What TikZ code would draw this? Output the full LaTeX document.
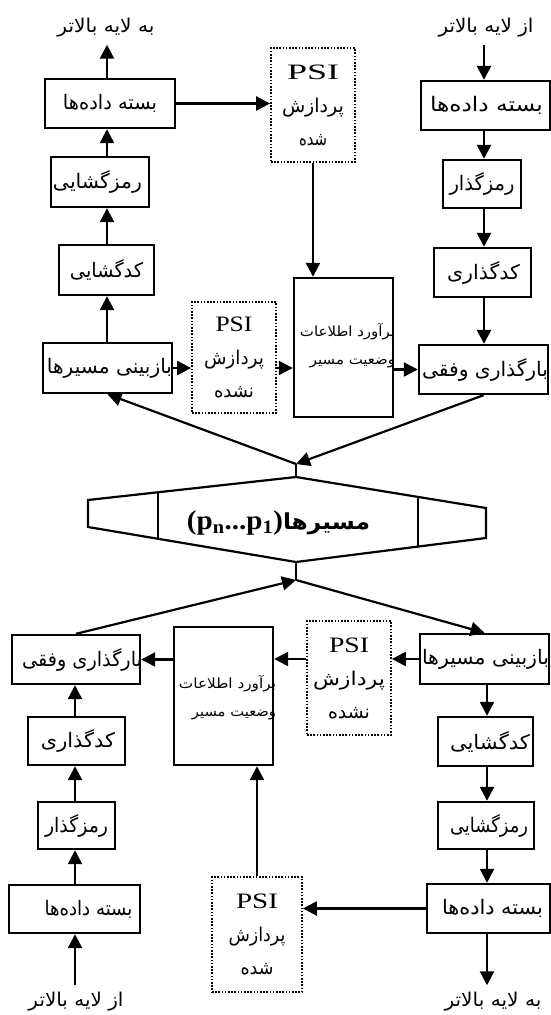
\documentclass[tikz,border=0pt]{standalone}
\usepackage{fontspec}
\usepackage{graphicx}
\setmainfont{Liberation Serif}
\newfontfamily\fafont[Script=Arabic]{DejaVu Sans}
\TeXXeTstate=1
\usetikzlibrary{arrows.meta}
% Persian font switch
\newcommand\fa[1]{{\fafont #1}}
% Persian text set to a given width (pt)
\newcommand\fw[2]{\resizebox{#1pt}{\height}{\fa{#2}}}
% Latin text set to a given width (pt)
\newcommand\lw[2]{\resizebox{#1pt}{\height}{#2}}
% box label: width, text, horizontal offset (pt); does not widen the box
\newcommand\bt[3]{\makebox[0pt]{\hspace*{#3pt}\hspace*{#3pt}\fw{#1}{#2}}}
% the PSI line of a processing box
\newcommand\psilbl[1]{{\fontsize{22}{33}\selectfont\lw{#1}{PSI}}}

\tikzset{
  arr/.style={line width=2.4pt, -{Triangle[length=14pt,width=14pt]}},
  blk/.style={draw, line width=2.4pt, inner sep=0pt, font=\fontsize{20}{24}\selectfont},
  psibox/.style={draw, line width=1.8pt, dash pattern=on 1.6pt off 1.6pt,
    inner sep=0pt, align=center, font=\fontsize{19}{33}\selectfont},
  estbox/.style={draw, line width=2.4pt, inner sep=0pt},
  esttxt/.style={inner sep=0pt, align=right, font=\fontsize{14}{28}\selectfont},
  hd/.style={inner xsep=4pt, inner ysep=7pt, font=\fontsize{19}{23}\selectfont},
  shp/.style={line width=2.2pt, line join=miter},
  diag/.style={line width=2.2pt, -{Triangle[length=14pt,width=14pt]}},
}

\begin{document}
\begin{tikzpicture}[x=1pt,y=-1pt]
\useasboundingbox (0,0) rectangle (551,1015);

% ---------- upper half ----------
\node[hd] (T_out) at (106,28) {\fw{97}{\beginR به لایه بالاتر\endR}};
\node[hd] (R_in)  at (486,28) {\fw{95}{\beginR از لایه بالاتر\endR}};

\node[blk, minimum width=130pt, minimum height=49pt] (T_bas)  at (110,103.5) {\bt{94}{\beginR بسته داده‌ها\endR}{0}};
\node[blk, minimum width=98pt,  minimum height=50pt] (T_ramz) at (100,182)   {\bt{89}{\beginR رمزگشایی\endR}{-2.5}};
\node[blk, minimum width=95pt,  minimum height=50pt] (T_kod)  at (106.5,270) {\bt{73}{\beginR کدگشایی\endR}{0}};
\node[blk, minimum width=129pt, minimum height=50pt] (T_baz)  at (107.5,368) {\bt{125}{\beginR بازبینی مسیرها\endR}{2}};

\node[psibox, minimum width=84pt, minimum height=114pt] (T_psis) at (313,105)
  {\psilbl{52}\\\fw{62}{\beginR پردازش\endR}\\\fw{28}{\beginR شده\endR}};
\node[psibox, minimum width=84pt, minimum height=111pt] (T_psin) at (234,357.5)
  {\psilbl{37}\\\fw{60}{\beginR پردازش\endR}\\\fw{40}{\beginR نشده\endR}};

\node[estbox, minimum width=99pt, minimum height=139pt] (T_est) at (343.5,347.5) {};
\node[esttxt, anchor=east] (T_estt) at ([xshift=1pt,yshift=2pt]T_est.east)
  {\fw{95}{\beginR برآورد اطلاعات\endR}\\\fw{85}{\beginR وضعیت مسیر\endR}};

\node[blk, minimum width=129pt, minimum height=49pt] (R_bas)  at (485.5,105.5) {\bt{113}{\beginR بسته داده‌ها\endR}{1}};
\node[blk, minimum width=78pt,  minimum height=48pt] (R_ramz) at (482,184)     {\bt{65}{\beginR رمزگذار\endR}{0}};
\node[blk, minimum width=97pt,  minimum height=49pt] (R_kod)  at (482.5,272.5) {\bt{73}{\beginR کدگذاری\endR}{1}};
\node[blk, minimum width=129pt, minimum height=49pt] (R_barg) at (483.5,369.5) {\bt{126}{\beginR بارگذاری وفقی\endR}{1.5}};

\coordinate (colTL) at (107,0);
\coordinate (colTR) at (484,0);

\draw[arr] (colTL |- T_bas.north)  -- (colTL |- T_out.south);
\draw[arr] (colTL |- T_ramz.north) -- (colTL |- T_bas.south);
\draw[arr] (colTL |- T_kod.north)  -- (colTL |- T_ramz.south);
\draw[arr] (colTL |- T_baz.north)  -- (colTL |- T_kod.south);

\draw[arr] (colTR |- R_in.south)   -- (colTR |- R_bas.north);
\draw[arr] (colTR |- R_bas.south)  -- (colTR |- R_ramz.north);
\draw[arr] (colTR |- R_ramz.south) -- (colTR |- R_kod.north);
\draw[arr] (colTR |- R_kod.south)  -- (colTR |- R_barg.north);

\draw[arr] (T_bas.east) -- (T_psis.west |- T_bas.east);
\draw[arr] (T_psis.south) -- (T_psis.south |- T_est.north);
\draw[arr] (T_baz.east) -- (T_psin.west |- T_baz.east);
\draw[arr] (T_psin.east |- T_baz.east) -- (T_est.west |- T_baz.east);
\draw[arr] (T_est.east |- R_barg.west) -- (R_barg.west);

% ---------- central path block ----------
\coordinate (sL1) at (88,500);
\coordinate (sT)  at (296,477);
\coordinate (sR1) at (486,508);
\coordinate (sR2) at (486,538);
\coordinate (sB)  at (296,562);
\coordinate (sL2) at (88,527);
\draw[shp] (sL1) -- (sT) -- (sR1) -- (sR2) -- (sB) -- (sL2) -- cycle;
\draw[shp] (158,492.3) -- (158,538.8);
\draw[shp] (418,496.9) -- (418,546.6);
\node[inner sep=0pt] (paths) at (278.5,523)
  {{\fontsize{27}{30}\selectfont\bfseries\lw{96}{(p\textsubscript{n}...p\textsubscript{1})}}{\fontsize{22}{26}\selectfont\bfseries\fw{87}{\beginR مسیرها\endR}}};

\coordinate (ts) at (296,464);
\coordinate (bs) at (296,580);
\draw[shp] (sT) -- (ts);
\draw[shp] (sB) -- (bs);
\draw[diag] (R_barg.south) -- (ts);
\draw[diag] (ts) -- (T_baz.south);

% ---------- lower half ----------
\node[blk, minimum width=128pt, minimum height=49pt] (B_barg) at (76,659.5)  {\bt{120}{\beginR بارگذاری وفقی\endR}{6}};
\node[blk, minimum width=97pt,  minimum height=48pt] (B_kod)  at (76.5,741)  {\bt{74}{\beginR کدگذاری\endR}{1.5}};
\node[blk, minimum width=77pt,  minimum height=47pt] (B_ramz) at (76.5,825.5) {\bt{63}{\beginR رمزگذار\endR}{0}};
\node[blk, minimum width=131pt, minimum height=48pt] (B_bas)  at (74.5,909)  {\bt{88}{\beginR بسته داده‌ها\endR}{14}};
\node[hd] (B_in) at (76,1002) {\fw{95}{\beginR از لایه بالاتر\endR}};

\node[estbox, minimum width=99pt, minimum height=138pt] (B_est) at (223.5,696) {};
\node[esttxt, anchor=east] (B_estt) at ([xshift=2pt,yshift=-2pt]B_est.east)
  {\fw{97}{\beginR برآورد اطلاعات\endR}\\\fw{84}{\beginR وضعیت مسیر\endR}};

\node[psibox, minimum width=84pt, minimum height=114pt] (B_psin) at (349,678)
  {\psilbl{40}\\\fw{72}{\beginR پردازش\endR}\\\fw{42}{\beginR نشده\endR}};
\node[psibox, minimum width=90pt, minimum height=115pt] (B_psis) at (257,934.5)
  {\psilbl{42}\\\fw{57}{\beginR پردازش\endR}\\\fw{33}{\beginR شده\endR}};

\node[blk, minimum width=129pt, minimum height=50pt] (B_baz)   at (484.5,659)  {\bt{127}{\beginR بازبینی مسیرها\endR}{1}};
\node[blk, minimum width=95pt,  minimum height=49pt] (B_kodg)  at (485.5,741.5) {\bt{80}{\beginR کدگشایی\endR}{4.5}};
\node[blk, minimum width=96pt,  minimum height=47pt] (B_ramzg) at (486,825.5)   {\bt{78}{\beginR رمزگشایی\endR}{3}};
\node[blk, minimum width=123pt, minimum height=49pt] (B_bas2)  at (488.5,908.5) {\bt{101}{\beginR بسته داده‌ها\endR}{4}};
\node[hd] (B_out) at (493,1002) {\fw{97}{\beginR به لایه بالاتر\endR}};

\coordinate (colBL) at (75,0);
\coordinate (colBR) at (487,0);

\draw[arr] (colBL |- B_in.north)   -- (colBL |- B_bas.south);
\draw[arr] (colBL |- B_bas.north)  -- (colBL |- B_ramz.south);
\draw[arr] (colBL |- B_ramz.north) -- (colBL |- B_kod.south);
\draw[arr] (colBL |- B_kod.north)  -- (colBL |- B_barg.south);

\draw[arr] (colBR |- B_baz.south)   -- (colBR |- B_kodg.north);
\draw[arr] (colBR |- B_kodg.south)  -- (colBR |- B_ramzg.north);
\draw[arr] (colBR |- B_ramzg.south) -- (colBR |- B_bas2.north);
\draw[arr] (colBR |- B_bas2.south)  -- (colBR |- B_out.north);

\draw[arr] (B_baz.west) -- (B_psin.east |- B_baz.west);
\draw[arr] (B_psin.west |- B_baz.west) -- (B_est.east |- B_baz.west);
\draw[arr] (B_est.west |- B_barg.east) -- (B_barg.east);
\draw[arr] (B_bas2.west) -- (B_psis.east |- B_bas2.west);
\draw[arr] (B_psis.north) -- (B_psis.north |- B_est.south);

\draw[diag] (B_barg.north) -- (bs);
\draw[diag] (bs) -- (B_baz.north);
\end{tikzpicture}
\end{document}
